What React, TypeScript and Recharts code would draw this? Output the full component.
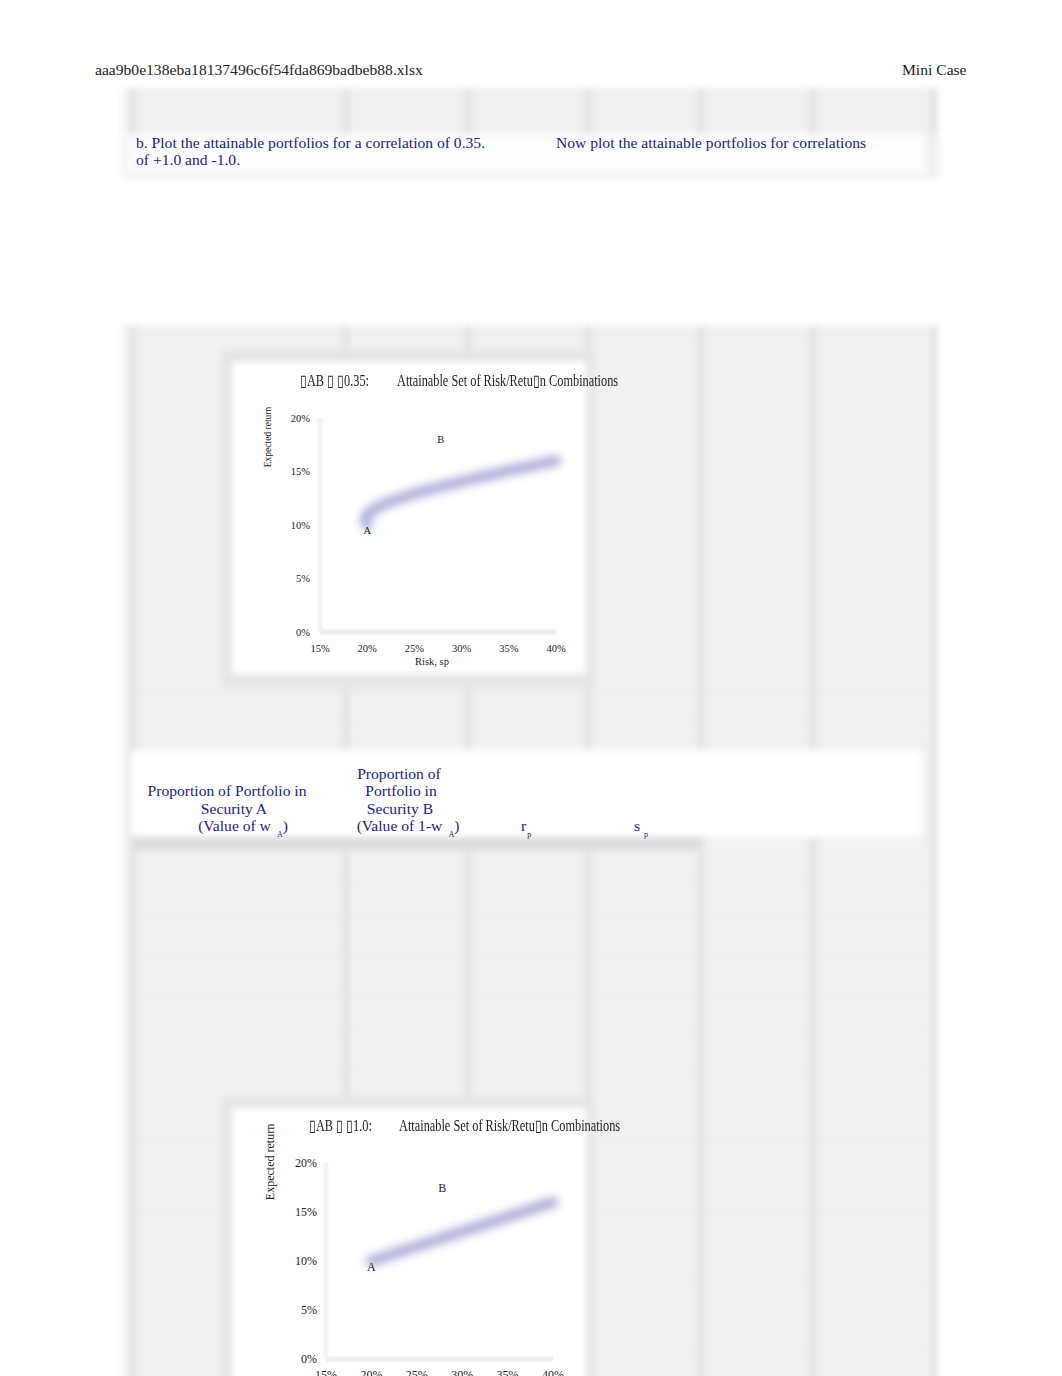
import React from "react";
import { ComposedChart, Line, XAxis, YAxis, ReferenceDot } from "recharts";

// axis ticks shared by both charts
const riskTicks = [0.15, 0.2, 0.25, 0.3, 0.35, 0.4];
const returnTicks = [0, 0.05, 0.1, 0.15, 0.2];

// attainable set, correlation 0.35 (wA from 1.0 down to 0.0)
const riskRho035 = [0.2, 0.1976, 0.2024, 0.2139, 0.2312, 0.253, 0.2783, 0.3062, 0.3361, 0.3675, 0.4];
const returnRho035 = [0.1, 0.106, 0.112, 0.118, 0.124, 0.13, 0.136, 0.142, 0.148, 0.154, 0.16];

// attainable set, correlation 1.0
const riskRho10 = [0.2, 0.22, 0.24, 0.26, 0.28, 0.3, 0.32, 0.34, 0.36, 0.38, 0.4];
const returnRho10 = [0.1, 0.106, 0.112, 0.118, 0.124, 0.13, 0.136, 0.142, 0.148, 0.154, 0.16];

// point labels
const labelNames = ["A", "B"];
const labelRisk035 = [0.2, 0.278];
const labelReturn035 = [0.095, 0.18];
const labelRisk10 = [0.2, 0.278];
const labelReturn10 = [0.094, 0.175];

const SERIF = "'Liberation Serif', 'Times New Roman', serif";
const NAVY = "#1a1a8a";
const BODY = 15.6;
const pct = (v: number) => `${Math.round(v * 100)}%`;

function Txt(props: { x: number; y: number; size: number; color?: string; center?: boolean; children: React.ReactNode; sx?: number }) {
  const { x, y, size, color, center, children, sx } = props;
  let tf = "";
  if (center) tf += "translateX(-50%) ";
  if (sx) tf += `scaleX(${sx})`;
  return (
    <div
      style={{
        position: "absolute",
        left: x,
        top: y - size / 2 - 1,
        fontSize: size,
        lineHeight: `${size + 2}px`,
        color: color || "#222",
        whiteSpace: "nowrap",
        transform: tf || undefined,
        transformOrigin: "left center",
      }}
    >
      {children}
    </div>
  );
}

function RiskChart(props: {
  risk: number[];
  ret: number[];
  lRisk: number[];
  lRet: number[];
  width: number;
  height: number;
  top: number;
  right: number;
  yWidth: number;
  xHeight: number;
  font: number;
  yMargin: number;
  xMargin: number;
}) {
  const data = props.risk.map((r, i) => ({ risk: r, ret: props.ret[i] }));
  const tick = { fill: "#222", fontSize: props.font, fontFamily: SERIF };
  return (
    <ComposedChart
      width={props.width}
      height={props.height}
      data={data}
      margin={{ top: props.top, right: props.right, bottom: 0, left: 0 }}
      style={{ fontFamily: SERIF }}
    >
      <XAxis
        type="number"
        dataKey="risk"
        domain={[0.15, 0.4]}
        ticks={riskTicks}
        tickFormatter={pct}
        height={props.xHeight}
        tickSize={0}
        tickMargin={props.xMargin}
        tickLine={false}
        axisLine={{ stroke: "#efefef", strokeWidth: 5 }}
        tick={tick}
      />
      <YAxis
        type="number"
        dataKey="ret"
        domain={[0, 0.2]}
        ticks={returnTicks}
        tickFormatter={pct}
        width={props.yWidth}
        tickSize={0}
        tickMargin={props.yMargin}
        tickLine={false}
        axisLine={{ stroke: "#f4f4f4", strokeWidth: 5 }}
        tick={tick}
      />
      <Line
        className="blurline"
        type="linear"
        dataKey="ret"
        stroke="#b0b0da"
        strokeWidth={11}
        strokeLinecap="round"
        strokeLinejoin="round"
        dot={false}
        activeDot={false}
        isAnimationActive={false}
      />
      {labelNames.map((n, i) => (
        <ReferenceDot
          key={n}
          x={props.lRisk[i]}
          y={props.lRet[i]}
          r={0}
          fill="none"
          stroke="none"
          label={{ value: n, fill: "#222", fontSize: props.font, fontFamily: SERIF, position: "center" }}
        />
      ))}
    </ComposedChart>
  );
}

const vLines = [130, 343, 465, 585, 698, 810, 931];
const hLines = [335, 690, 720, 742, 880, 917, 953, 993, 1030, 1070, 1140, 1210, 1280, 1350];

export default function App() {
  return (
    <div
      style={{
        position: "absolute",
        left: 0,
        top: 0,
        width: 1062,
        height: 1376,
        overflow: "hidden",
        background: "#fff",
        fontFamily: SERIF,
      }}
    >
      <style>{`.blurline path { filter: blur(4.2px); }`}</style>

      {/* spreadsheet background, blurred */}
      <div style={{ position: "absolute", left: 0, top: 0, width: 1062, height: 1400, filter: "blur(3px)" }}>
        <div style={{ position: "absolute", left: 122, top: 88, width: 816, height: 90, background: "#f0f0f0" }} />
        <div style={{ position: "absolute", left: 122, top: 325, width: 816, height: 1080, background: "#f1f1f1" }} />
        {vLines.map((x) => (
          <React.Fragment key={x}>
            <div style={{ position: "absolute", left: x, top: 88, width: 6, height: 46, background: "#e2e2e2" }} />
            <div style={{ position: "absolute", left: x, top: 325, width: 6, height: 1080, background: "#e2e2e2" }} />
          </React.Fragment>
        ))}
        {hLines.map((y) => (
          <div key={y} style={{ position: "absolute", left: 130, top: y, width: 800, height: 2, background: "#e9e9e9" }} />
        ))}
        <div style={{ position: "absolute", left: 126, top: 134, width: 800, height: 38, background: "#fdfdfd" }} />
        <div style={{ position: "absolute", left: 132, top: 750, width: 790, height: 87, background: "#fff" }} />
        <div style={{ position: "absolute", left: 132, top: 837, width: 568, height: 13, background: "#dcdcdc" }} />
        <div style={{ position: "absolute", left: 222, top: 350, width: 372, height: 338, background: "#e6e6e6" }} />
        <div style={{ position: "absolute", left: 222, top: 1097, width: 372, height: 320, background: "#e6e6e6" }} />
        <div style={{ position: "absolute", left: 232, top: 362, width: 354, height: 312, background: "#fff" }} />
        <div style={{ position: "absolute", left: 232, top: 1108, width: 354, height: 300, background: "#fff" }} />
      </div>

      {/* page header */}
      <Txt x={95} y={70} size={BODY}>aaa9b0e138eba18137496c6f54fda869badbeb88.xlsx</Txt>
      <Txt x={902} y={70} size={BODY}>Mini Case</Txt>

      {/* instructions */}
      <Txt x={136} y={143} size={BODY} color={NAVY}>b. Plot the attainable portfolios for a correlation of 0.35.</Txt>
      <Txt x={136} y={160} size={BODY} color={NAVY}>of +1.0 and -1.0.</Txt>
      <Txt x={556} y={143} size={BODY} color={NAVY}>Now plot the attainable portfolios for correlations</Txt>

      {/* chart 1: rho = 0.35 */}
      <div style={{ position: "absolute", left: 232, top: 362, width: 354, height: 312 }}>
        <RiskChart
          risk={riskRho035}
          ret={returnRho035}
          lRisk={labelRisk035}
          lRet={labelReturn035}
          width={354}
          height={312}
          top={56}
          right={30}
          yWidth={88}
          xHeight={42}
          font={10.5}
          yMargin={10}
          xMargin={13}
        />
      </div>
      <Txt x={300} y={381} size={16} sx={0.77}>▯AB ▯ ▯0.35:</Txt>
      <Txt x={397} y={381} size={16} sx={0.77}>Attainable Set of Risk/Retu▯n Combinations</Txt>
      <Txt x={432} y={662} size={10.5} center>Risk, sp</Txt>
      <div
        style={{
          position: "absolute",
          left: 268,
          top: 437,
          fontSize: 9.5,
          lineHeight: "10px",
          color: "#222",
          whiteSpace: "nowrap",
          transform: "translate(-50%, -50%) rotate(-90deg)",
        }}
      >
        Expected return
      </div>

      {/* table header */}
      <Txt x={227} y={791} size={BODY} color={NAVY} center>Proportion of Portfolio in</Txt>
      <Txt x={234} y={809} size={BODY} color={NAVY} center>Security A</Txt>
      <Txt x={243} y={826} size={BODY} color={NAVY} center>
        (Value of w<span style={{ fontSize: 8, marginLeft: 6, verticalAlign: -6 }}>A</span>)
      </Txt>
      <Txt x={399} y={774} size={BODY} color={NAVY} center>Proportion of</Txt>
      <Txt x={401} y={791} size={BODY} color={NAVY} center>Portfolio in</Txt>
      <Txt x={400} y={809} size={BODY} color={NAVY} center>Security B</Txt>
      <Txt x={408} y={826} size={BODY} color={NAVY} center>
        (Value of 1-w<span style={{ fontSize: 8, marginLeft: 6, verticalAlign: -6 }}>A</span>)
      </Txt>
      <Txt x={521} y={826} size={BODY} color={NAVY}>
        r<span style={{ fontSize: 8, marginLeft: 1, verticalAlign: -6 }}>p</span>
      </Txt>
      <Txt x={634} y={826} size={BODY} color={NAVY}>
        s<span style={{ fontSize: 8, marginLeft: 4, verticalAlign: -6 }}>p</span>
      </Txt>

      {/* chart 2: rho = 1.0 */}
      <div style={{ position: "absolute", left: 232, top: 1108, width: 354, height: 300 }}>
        <RiskChart
          risk={riskRho10}
          ret={returnRho10}
          lRisk={labelRisk10}
          lRet={labelReturn10}
          width={354}
          height={300}
          top={55}
          right={33}
          yWidth={94}
          xHeight={49}
          font={12}
          yMargin={9}
          xMargin={11}
        />
      </div>
      <Txt x={309} y={1126} size={16} sx={0.77}>▯AB ▯ ▯1.0:</Txt>
      <Txt x={399} y={1126} size={16} sx={0.77}>Attainable Set of Risk/Retu▯n Combinations</Txt>
      <div
        style={{
          position: "absolute",
          left: 270,
          top: 1162,
          fontSize: 12,
          lineHeight: "12px",
          color: "#222",
          whiteSpace: "nowrap",
          transform: "translate(-50%, -50%) rotate(-90deg)",
        }}
      >
        Expected return
      </div>
    </div>
  );
}
